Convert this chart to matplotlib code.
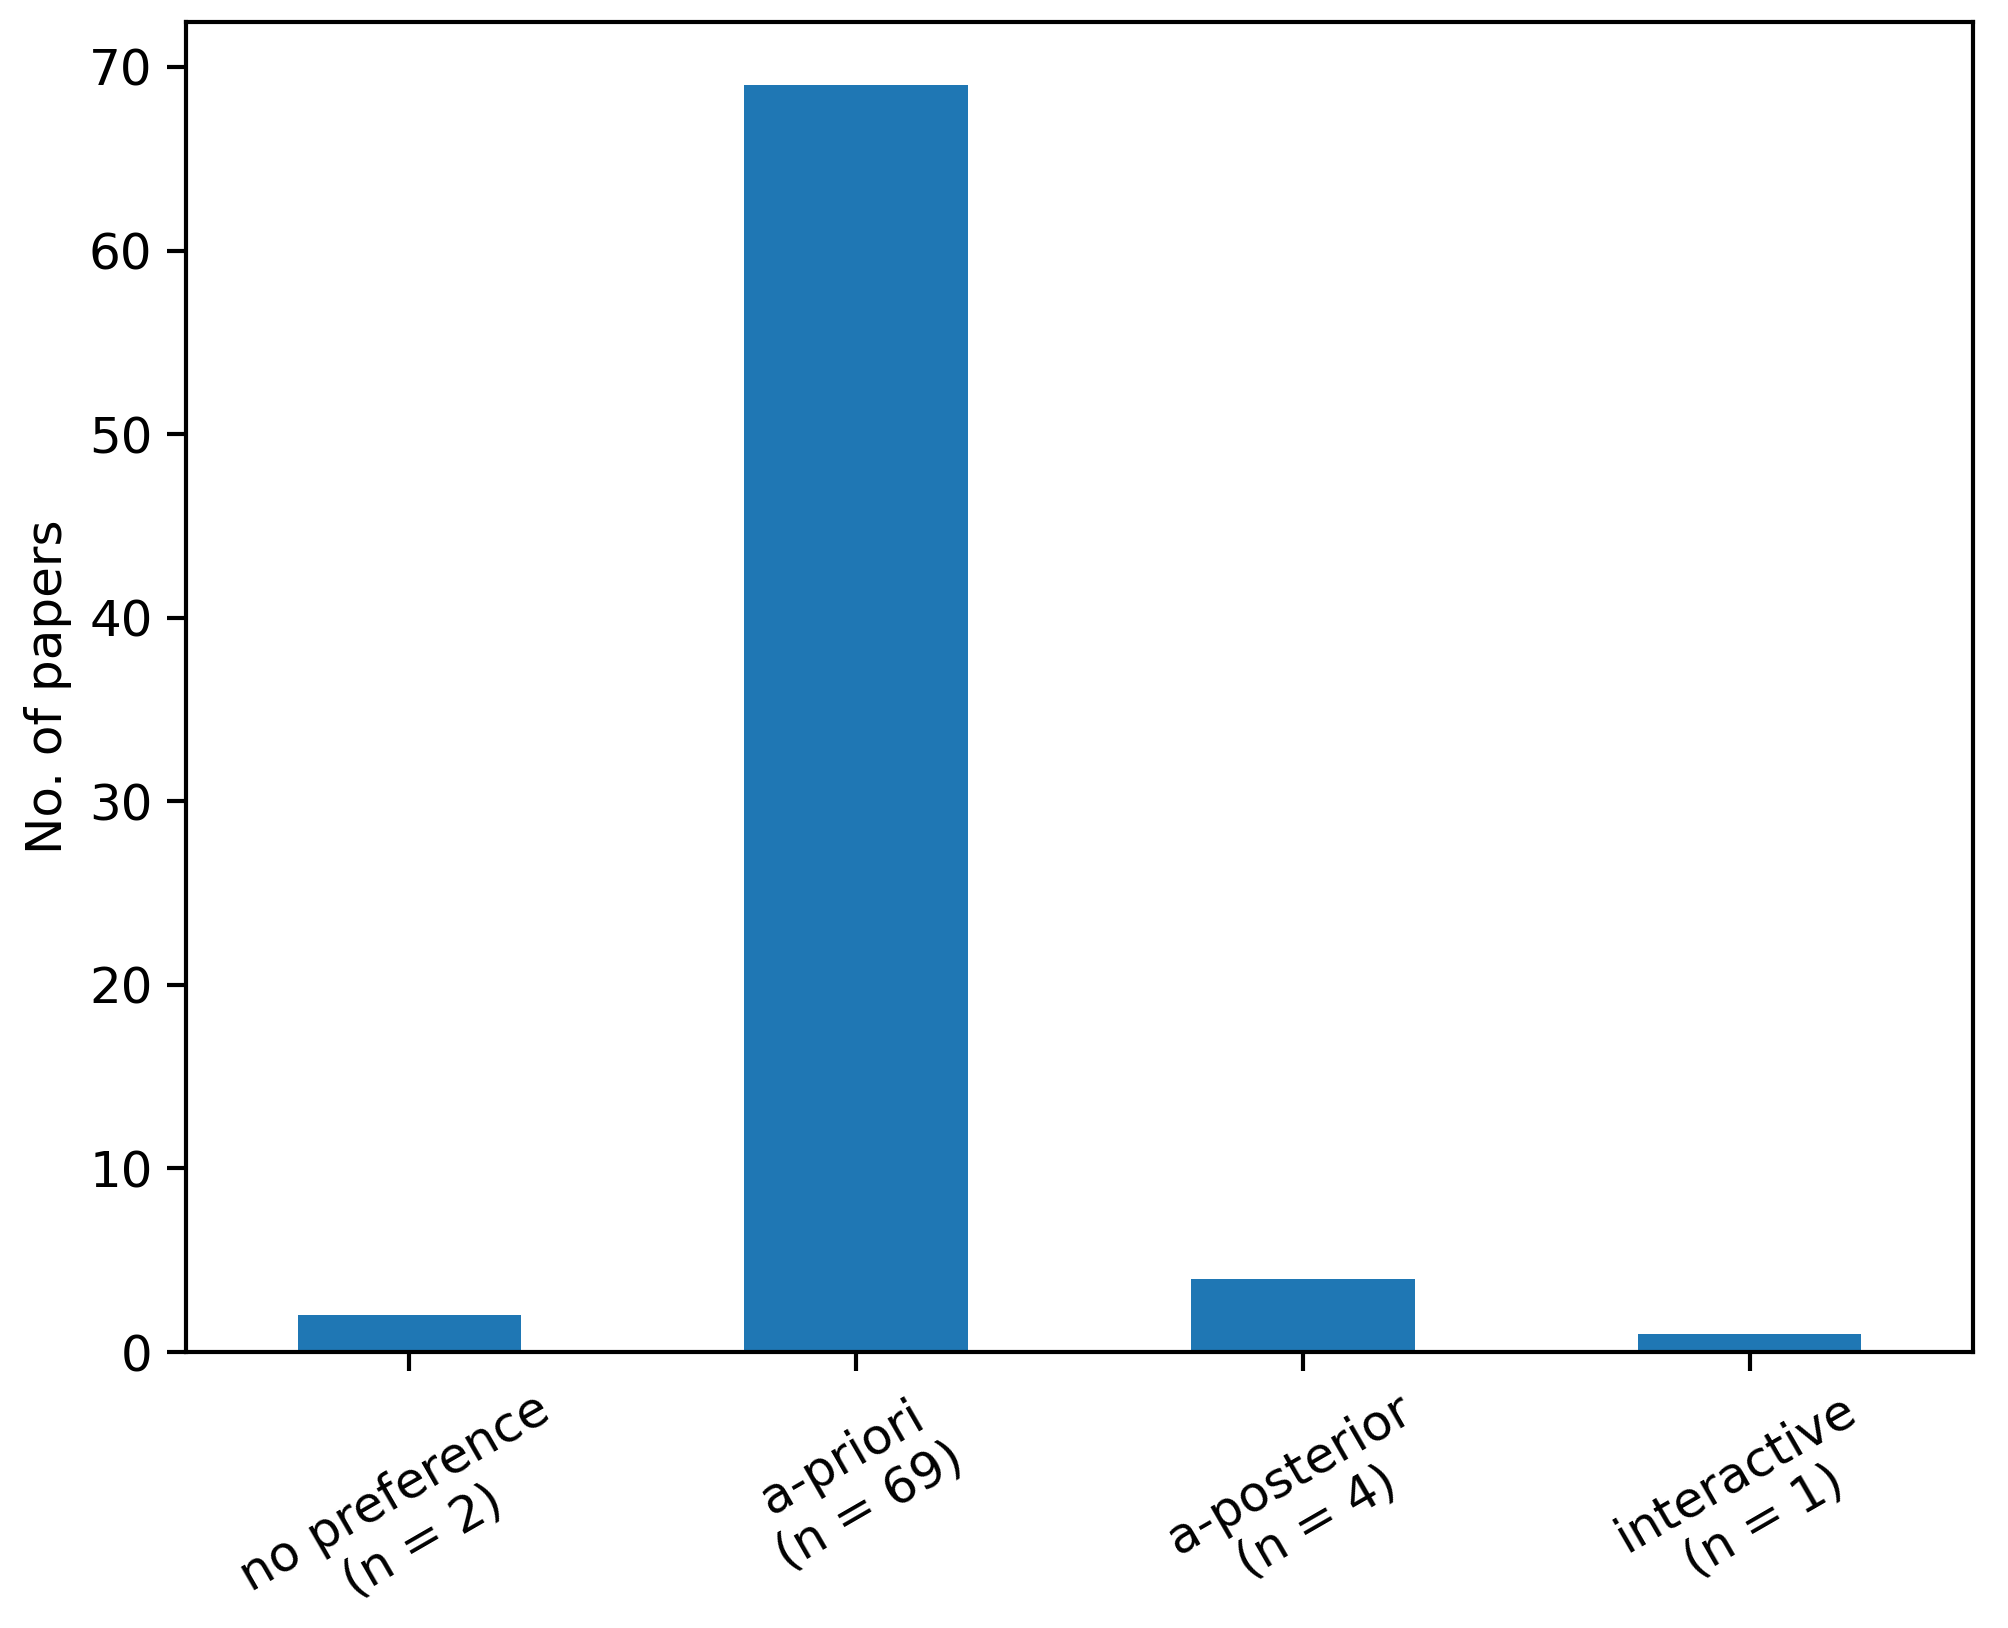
import numpy as np
from matplotlib import pyplot as plt

categories = ["no preference\n(n = 2)", "a-priori\n(n = 69)", "a-posterior\n(n = 4)", "interactive\n(n = 1)"]
counts = [2, 69, 4, 1]

plt.rcParams['font.size'] = 12
plt.rcParams['axes.linewidth'] = 1.0
plt.rcParams['xtick.major.width'] = 1.0
plt.rcParams['ytick.major.width'] = 1.0
plt.rcParams['xtick.major.size'] = 4.5
plt.rcParams['ytick.major.size'] = 4.5

fig = plt.figure(figsize=(2008/300, 1628/300), dpi=300)
ax = fig.add_axes([0.0926, 0.1695, 0.89, 0.817])
x = np.arange(len(categories))
ax.bar(x, counts, width=0.5, color="#1f77b4")
ax.set_xlim(-0.5, len(categories) - 0.5)
ax.set_xticks(x)
ax.set_xticklabels(categories, rotation=30, ha="center")
ax.set_ylabel("No. of papers")
fig.savefig("out.png", dpi=300)
